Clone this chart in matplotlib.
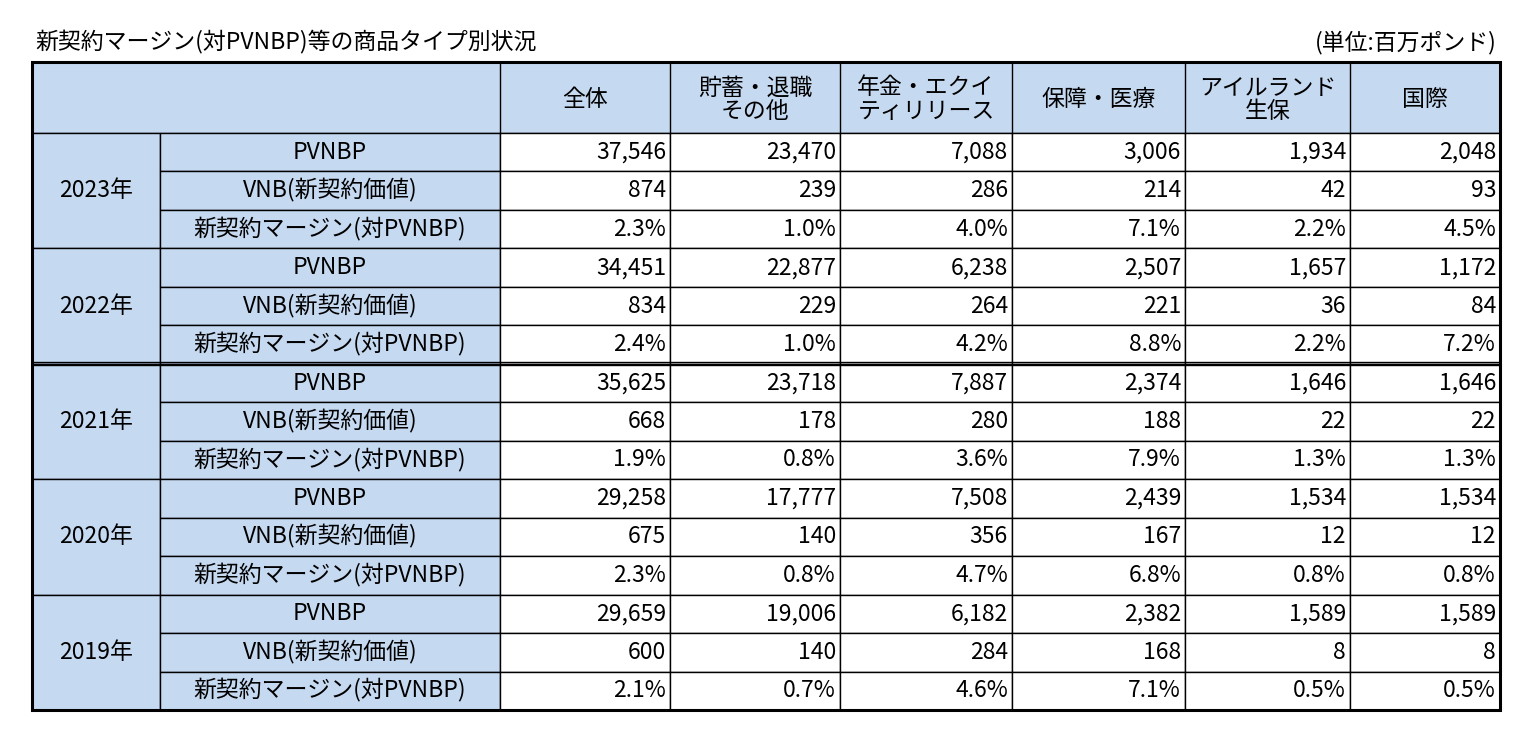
import matplotlib
matplotlib.use("Agg")
import matplotlib.pyplot as plt
from matplotlib.patches import Rectangle

plt.rcParams["font.family"] = "Noto Sans CJK JP"

title = "新契約マージン(対PVNBP)等の商品タイプ別状況"
unit = "(単位:百万ポンド)"
columns = ["全体", "貯蓄・退職\nその他", "年金・エクイ\nティリリース", "保障・医療", "アイルランド\n生保", "国際"]
years = ["2023年", "2022年", "2021年", "2020年", "2019年"]
row_labels = ["PVNBP", "VNB(新契約価値)", "新契約マージン(対PVNBP)"]

pvnbp = [
    [37546, 23470, 7088, 3006, 1934, 2048],
    [34451, 22877, 6238, 2507, 1657, 1172],
    [35625, 23718, 7887, 2374, 1646, 1646],
    [29258, 17777, 7508, 2439, 1534, 1534],
    [29659, 19006, 6182, 2382, 1589, 1589],
]
vnb = [
    [874, 239, 286, 214, 42, 93],
    [834, 229, 264, 221, 36, 84],
    [668, 178, 280, 188, 22, 22],
    [675, 140, 356, 167, 12, 12],
    [600, 140, 284, 168, 8, 8],
]
margin = [
    [2.3, 1.0, 4.0, 7.1, 2.2, 4.5],
    [2.4, 1.0, 4.2, 8.8, 2.2, 7.2],
    [1.9, 0.8, 3.6, 7.9, 1.3, 1.3],
    [2.3, 0.8, 4.7, 6.8, 0.8, 0.8],
    [2.1, 0.7, 4.6, 7.1, 0.5, 0.5],
]

W, H = 1536, 746
fig = plt.figure(figsize=(W / 100, H / 100), dpi=100)
ax = fig.add_axes([0, 0, 1, 1])
ax.set_xlim(0, W)
ax.set_ylim(H, 0)
ax.axis("off")

blue = "#C5D9F1"
col_x = [32, 160, 500, 670, 840, 1012, 1185, 1350, 1500]
top, head_bot, bottom = 62, 133, 710
rh = (bottom - head_bot) / 15.0
fs = 16.5

ax.text(35, 42, title, fontsize=fs, va="center", ha="left")
ax.text(1497, 42, unit, fontsize=fs, va="center", ha="right")

# header
ax.add_patch(Rectangle((col_x[0], top), col_x[-1] - col_x[0], head_bot - top, fc=blue, ec="black", lw=1))
for i, c in enumerate(columns):
    x0, x1 = col_x[i + 2], col_x[i + 3]
    ax.plot([x0, x0], [top, head_bot], color="black", lw=1)
    ax.text((x0 + x1) / 2, (top + head_bot) / 2 + 2, c, fontsize=fs, ha="center", va="center", linespacing=1.0)

for y, yr in enumerate(years):
    y0 = head_bot + 3 * y * rh
    ax.add_patch(Rectangle((col_x[0], y0), col_x[1] - col_x[0], 3 * rh, fc=blue, ec="black", lw=1))
    ax.text((col_x[0] + col_x[1]) / 2, y0 + 1.5 * rh, yr, fontsize=fs, ha="center", va="center")
    rows = [[f"{v:,}" for v in pvnbp[y]], [f"{v:,}" for v in vnb[y]], [f"{v:.1f}%" for v in margin[y]]]
    for r in range(3):
        ry = y0 + r * rh
        ax.add_patch(Rectangle((col_x[1], ry), col_x[2] - col_x[1], rh, fc=blue, ec="black", lw=1))
        ax.text((col_x[1] + col_x[2]) / 2, ry + rh / 2, row_labels[r], fontsize=fs, ha="center", va="center")
        for j, s in enumerate(rows[r]):
            x0, x1 = col_x[j + 2], col_x[j + 3]
            ax.add_patch(Rectangle((x0, ry), x1 - x0, rh, fc="white", ec="black", lw=1))
            ax.text(x1 - 4, ry + rh / 2, s, fontsize=fs, ha="right", va="center")

# outer border and double line between 2022 and 2021
ax.add_patch(Rectangle((col_x[0], top), col_x[-1] - col_x[0], bottom - top, fc="none", ec="black", lw=2.2))
ym = head_bot + 6 * rh
ax.plot([col_x[0], col_x[-1]], [ym - 1.5, ym - 1.5], color="black", lw=1)
ax.plot([col_x[0], col_x[-1]], [ym + 1.5, ym + 1.5], color="black", lw=1)

fig.savefig("out.png", dpi=100)
